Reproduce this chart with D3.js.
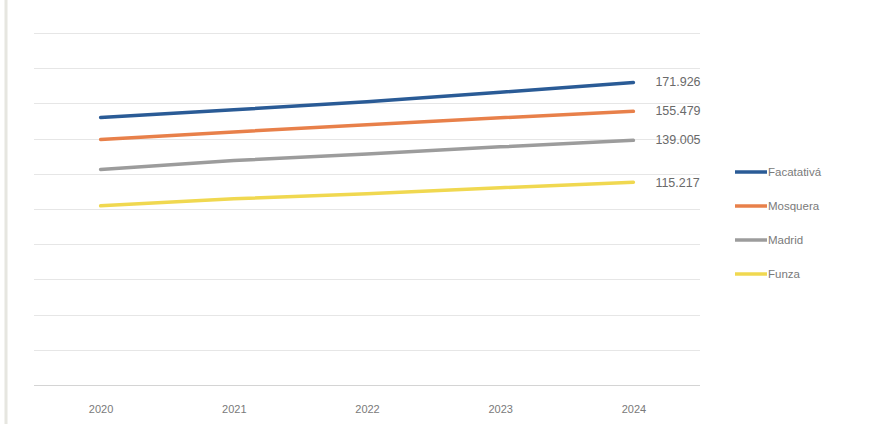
<!DOCTYPE html>
<html><head><meta charset="utf-8">
<script src="https://cdn.jsdelivr.net/npm/d3@7/dist/d3.min.js"></script>
<style>body{margin:0;background:#fff;} svg{display:block;}</style>
</head><body>
<svg id="chart" width="887" height="424"></svg>
<script>
const years = ["2020","2021","2022","2023","2024"];
const seriesNames = ["Facatativá","Mosquera","Madrid","Funza"];
const facatativa = [152000, 156400, 161000, 166300, 171926];
const mosquera  = [139500, 143800, 147800, 151800, 155479];
const madrid    = [122500, 127500, 131200, 135300, 139005];
const funza     = [101800, 105800, 108700, 112100, 115217];
const lastLabels = ["171.926","155.479","139.005","115.217"];
const yTicks = d3.range(0, 200001, 20000);

const colors = ["#2A5B96","#E8804A","#9C9C9C","#F0D850"];
const data = [facatativa, mosquera, madrid, funza];

const svg = d3.select("#chart");
const m = {left:34, right:187, top:33, bottom:39};
const W = 887, H = 424;
const x = d3.scalePoint().domain(years).range([m.left, W - m.right]).padding(0.5);
const y = d3.scaleLinear().domain([0, 200000]).range([H - m.bottom, m.top]);

// scan edge
svg.append("line").attr("x1",6).attr("x2",6).attr("y1",0).attr("y2",H).attr("stroke","#e6e6e0").attr("stroke-width",3);

// gridlines
svg.append("g").selectAll("line").data(yTicks.slice(1)).join("line")
  .attr("x1", m.left).attr("x2", W - m.right)
  .attr("y1", d => Math.round(y(d)) + 0.5).attr("y2", d => Math.round(y(d)) + 0.5)
  .attr("stroke", "#e6e6e6").attr("stroke-width", 1);

// x axis
const xa = svg.append("g").attr("transform", `translate(0,${Math.round(y(0))+0.5})`)
  .call(d3.axisBottom(x).tickSize(0).tickPadding(20));
xa.select(".domain").attr("stroke","#d4d4d4").attr("d", `M${m.left},0H${W-m.right}`);
xa.selectAll("text").attr("fill","#7a7a7a").style("font-family","Liberation Sans, Arial, sans-serif").style("font-size","11px");

// lines
const line = d3.line().x((d,i) => x(years[i])).y(d => y(d));
svg.append("g").selectAll("path").data(data).join("path")
  .attr("d", line).attr("fill","none")
  .attr("stroke", (d,i) => colors[i]).attr("stroke-width", 3.5).attr("stroke-linecap","round");

// end labels
svg.append("g").selectAll("text").data(data).join("text")
  .attr("x", x("2024") + 22).attr("y", d => y(d[4]) + 4 + (d === funza ? 1 : 0))
  .attr("fill","#6a6a6a").style("font-family","Liberation Sans, Arial, sans-serif").style("font-size","12.5px")
  .text((d,i) => lastLabels[i]);

// legend
const lg = svg.append("g").attr("transform","translate(735,172)");
seriesNames.forEach((n,i) => {
  const g = lg.append("g").attr("transform",`translate(0,${i*34})`);
  g.append("line").attr("x1",0).attr("x2",32).attr("y1",0).attr("y2",0).attr("stroke",colors[i]).attr("stroke-width",3.5);
  g.append("text").attr("x",33).attr("y",4).attr("fill","#7a7a7a")
    .style("font-family","Liberation Sans, Arial, sans-serif").style("font-size","11.5px").text(n);
});
</script>
</body></html>
